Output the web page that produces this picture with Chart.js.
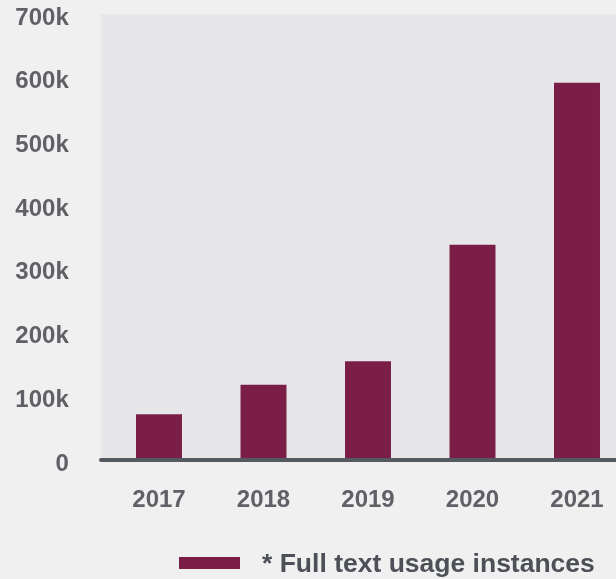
<!DOCTYPE html>
<html>
<head>
<meta charset="utf-8">
<script src="https://cdn.jsdelivr.net/npm/chart.js@4/dist/chart.umd.min.js"></script>
<style>
    html, body { margin: 0; padding: 0; background: #f0f0f0; overflow: hidden; }
    #wrap { position: relative; width: 616px; height: 579px; overflow: hidden; }
    #legend { position: absolute; left: 179px; top: 548px; height: 30px; display: flex; align-items: center;
              font-family: "Liberation Sans", Arial, sans-serif; font-weight: bold; font-size: 26.5px; color: #4d5056; white-space: nowrap; }
    #legend span.box { display: inline-block; width: 61px; height: 12px; background: #7a1e47; margin-right: 22px; }
</style>
</head>
<body>
<div id="wrap">
    <canvas id="graph" width="630" height="579"></canvas>
    <div id="legend"><span class="box"></span><span id="legendText"></span></div>
</div>
<script>
// Données
var annees = ['2017', '2018', '2019', '2020', '2021'];
var usages = [72000, 118000, 155000, 338000, 592000];
var serieLabel = '* Full text usage instances';
var yMax = 700000;
var yStep = 100000;

var couleurBarre = '#7a1e47';
var couleurTexte = '#606167';

document.getElementById('legendText').textContent = serieLabel;

// fond gris de la zone + ligne d'axe
var fondPlugin = {
    id: 'fond',
    beforeDatasetsDraw: function (chart) {
        var ctx = chart.ctx;
        var a = chart.chartArea;
        ctx.save();
        ctx.fillStyle = '#e7e7e9';
        ctx.fillRect(101, a.top, chart.width - 101, a.bottom - a.top);
        ctx.restore();
    },
    afterDatasetsDraw: function (chart) {
        var ctx = chart.ctx;
        var a = chart.chartArea;
        ctx.save();
        ctx.strokeStyle = '#555a60';
        ctx.lineWidth = 4;
        ctx.lineCap = 'round';
        ctx.beginPath();
        ctx.moveTo(101, a.bottom);
        ctx.lineTo(chart.width + 5, a.bottom);
        ctx.stroke();
        ctx.restore();
    }
};

var ctx = document.getElementById('graph').getContext('2d');
var chart = new Chart(ctx, {
    type: 'bar',
    data: {
        labels: annees,
        datasets: [{
            label: serieLabel,
            data: usages,
            backgroundColor: couleurBarre,
            borderWidth: 0,
            barPercentage: 0.44,
            categoryPercentage: 1
        }]
    },
    options: {
        responsive: false,
        devicePixelRatio: 1,
        animation: false,
        layout: { padding: { top: 14, right: 0.75, left: 0, bottom: 0 } },
        plugins: {
            legend: { display: false },
            tooltip: { enabled: false }
        },
        scales: {
            x: {
                grid: { display: false, drawTicks: false },
                border: { display: false },
                ticks: {
                    padding: 26,
                    color: couleurTexte,
                    font: { family: 'Liberation Sans', size: 24, weight: 'bold' }
                },
                afterFit: function (scale) { scale.height = 119; scale.paddingLeft = 0; scale.paddingRight = 0; }
            },
            y: {
                min: 0,
                max: yMax,
                grid: { display: false, drawTicks: false },
                border: { display: false },
                ticks: {
                    stepSize: yStep,
                    padding: 38,
                    labelOffset: 4,
                    color: couleurTexte,
                    font: { family: 'Liberation Sans', size: 24, weight: 'bold' },
                    callback: function (v) { return v === 0 ? '0' : (v / 1000) + 'k'; }
                },
                afterFit: function (scale) { scale.width = 106.75; scale.paddingTop = 0; scale.paddingBottom = 0; }
            }
        }
    },
    plugins: [fondPlugin]
});
</script>
</body>
</html>
